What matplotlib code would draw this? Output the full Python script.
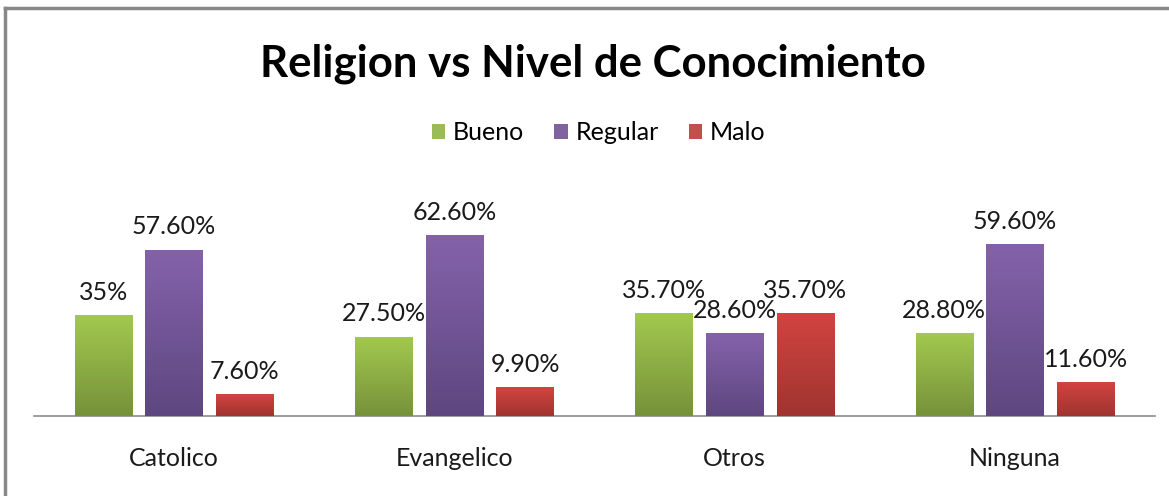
import numpy as np
import matplotlib.pyplot as plt
from matplotlib.colors import LinearSegmentedColormap

plt.rcParams['font.family'] = ['Lato', 'DejaVu Sans']

# datos
categorias = ['Catolico', 'Evangelico', 'Otros', 'Ninguna']
series = ['Bueno', 'Regular', 'Malo']
bueno = [35.0, 27.5, 35.7, 28.8]
regular = [57.6, 62.6, 28.6, 59.6]
malo = [7.6, 9.9, 35.7, 11.6]
etiquetas = [['35%', '27.50%', '35.70%', '28.80%'],
             ['57.60%', '62.60%', '28.60%', '59.60%'],
             ['7.60%', '9.90%', '35.70%', '11.60%']]

colores = ['#9bbb59', '#8064a2', '#c0504d']
claros = ['#a3c94f', '#8462ab', '#d24440']
oscuros = ['#76923a', '#5e4780', '#9f3430']

fig = plt.figure(figsize=(11.69, 4.96), dpi=100)
ax = fig.add_axes([0.0291, 0.1613, 0.959, 0.466])

x = np.arange(len(categorias))
ancho = 0.205
paso = 0.252
valores = [bueno, regular, malo]

for i, vals in enumerate(valores):
    barras = ax.bar(x + (i - 1) * paso, vals, ancho, color=colores[i],
                    edgecolor='none', label=series[i], zorder=2)
    cmap = LinearSegmentedColormap.from_list('g', [oscuros[i], claros[i]])
    grad = np.linspace(0, 1, 100).reshape(-1, 1)
    for b in barras:
        x0, y0 = b.get_x(), b.get_y()
        im = ax.imshow(grad, cmap=cmap, aspect='auto', origin='lower',
                       extent=[x0, x0 + b.get_width(), y0, y0 + b.get_height()],
                       zorder=3)
        im.set_clip_path(b)

# etiquetas de datos
for i, vals in enumerate(valores):
    for j, v in enumerate(vals):
        ax.annotate(etiquetas[i][j], (x[j] + (i - 1) * paso, v),
                    xytext=(0, 8), textcoords='offset points',
                    ha='center', va='bottom', fontsize=18, color='#1a1a1a',
                    zorder=5)

ax.set_xlim(-0.5, 3.5)
ax.set_ylim(0, 80)
ax.set_xticks(x)
ax.set_xticklabels(categorias, fontsize=18, color='#1a1a1a')
ax.tick_params(axis='x', length=0, pad=22)
ax.set_yticks([])
for s in ['top', 'right', 'left']:
    ax.spines[s].set_visible(False)
ax.spines['bottom'].set_color('#8c8c8c')
ax.spines['bottom'].set_linewidth(1.2)

fig.text(0.507, 0.872, 'Religion vs Nivel de Conocimiento', ha='center',
         va='center', fontsize=31.5, fontweight='bold', color='black')

fig.legend(loc='center', bbox_to_anchor=(0.512, 0.733), ncol=3,
           frameon=False, fontsize=18, handlelength=0.55, handleheight=0.55,
           handletextpad=0.3, columnspacing=1.2)

# borde del grafico
fig.add_artist(plt.Line2D([0.0043, 1.0], [0.984, 0.984], color='#888888',
                          lw=2.5, transform=fig.transFigure))
fig.add_artist(plt.Line2D([0.0043, 0.0043], [0.0, 0.984], color='#888888',
                          lw=2.5, transform=fig.transFigure))

plt.savefig('out.png', dpi=100)
